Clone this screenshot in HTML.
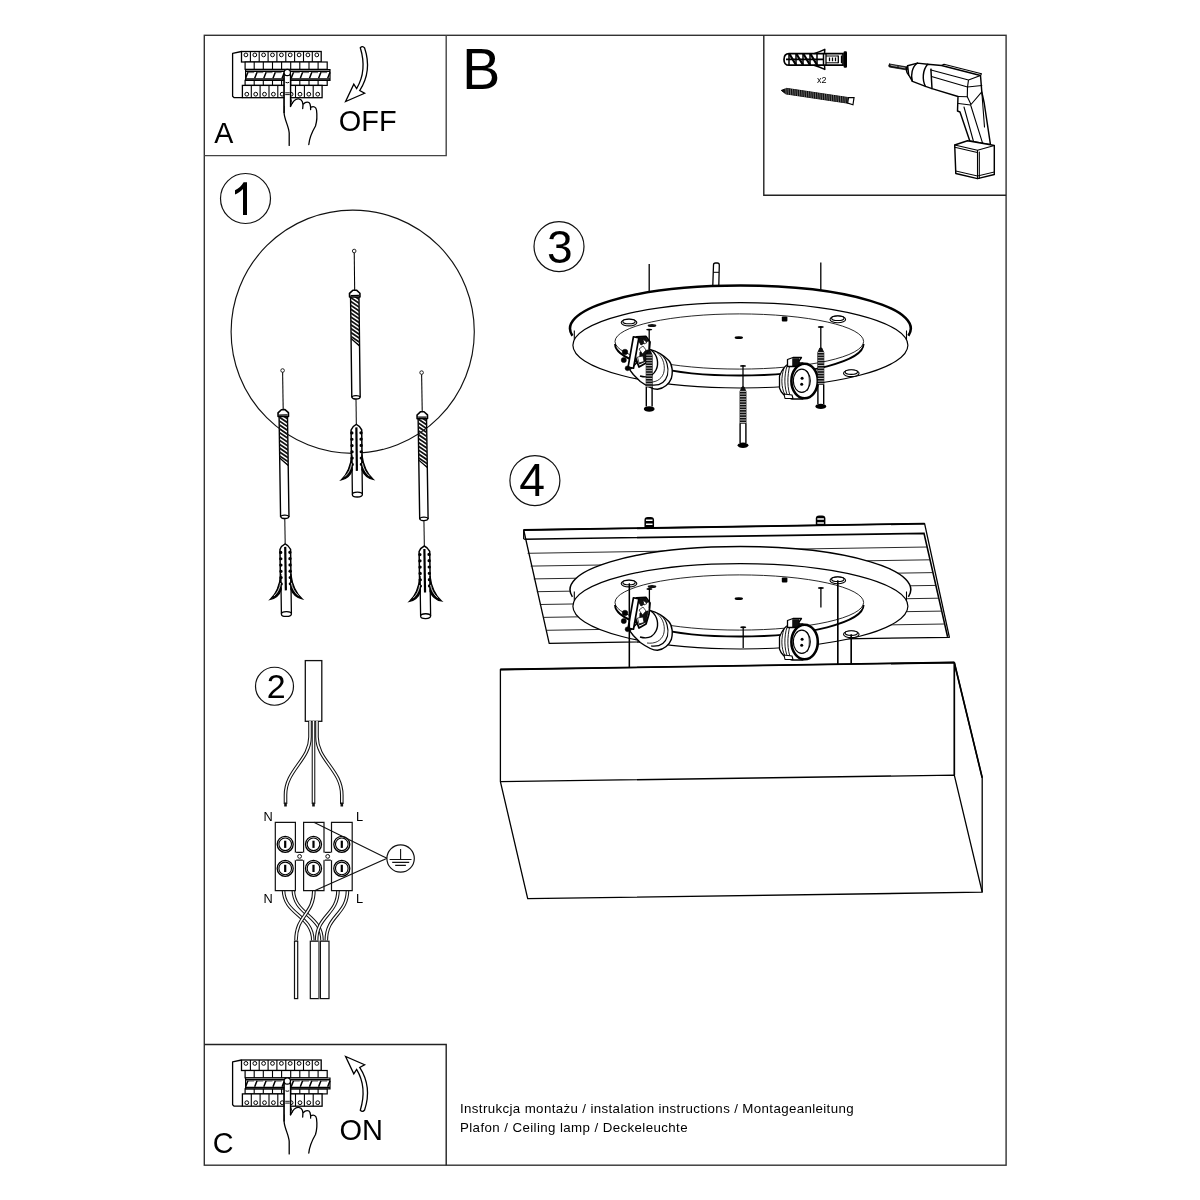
<!DOCTYPE html>
<html><head><meta charset="utf-8">
<style>
html,body{margin:0;padding:0;background:#fff;width:1200px;height:1200px;overflow:hidden}
svg{display:block;will-change:transform}
text{font-family:"Liberation Sans",sans-serif;fill:#000}
.f{fill:none;stroke:#111;stroke-width:1.2}
.t{fill:none;stroke:#111;stroke-width:0.9}
.k{fill:none;stroke:#000;stroke-width:1.8}
.w{fill:#fff;stroke:#111;stroke-width:1.2}
.b{fill:#111;stroke:none}
</style></head><body>
<svg width="1200" height="1200" viewBox="0 0 1200 1200">
<!-- frames -->
<rect x="204.3" y="35.3" width="801.8" height="1129.9" fill="none" stroke="#333" stroke-width="1.4"/>
<path d="M204.3 155.6H446.2V35.3" fill="none" stroke="#444" stroke-width="1.4"/>
<path d="M763.8 35.3V195.2H1006.1" fill="none" stroke="#222" stroke-width="1.4"/>
<path d="M204.3 1044.5H446.2V1165.2" fill="none" stroke="#222" stroke-width="1.4"/>

<!-- texts -->
<text x="214.3" y="143.3" font-size="28.6">A</text>
<text x="338.8" y="131.4" font-size="28.9">OFF</text>
<text x="462" y="88.9" font-size="57.5">B</text>
<text x="212.8" y="1153.3" font-size="28.8">C</text>
<text x="339.5" y="1140.3" font-size="29">ON</text>
<text x="460" y="1113" font-size="13.3" letter-spacing="0.37" fill="#222">Instrukcja montażu / instalation instructions / Montageanleitung</text>
<text x="460" y="1131.5" font-size="13.3" letter-spacing="0.4" fill="#222">Plafon / Ceiling lamp / Deckeleuchte</text>
<text x="817" y="83.3" font-size="9">x2</text>

<!-- step circles -->
<circle cx="245.5" cy="198.5" r="25" class="f"/>
<path d="M243,215V189C240.5,191.6 238,193.2 235,194.4V190.3C238.6,188.6 241.6,185.8 243.6,182.3H247V215Z" fill="#000"/>
<circle cx="274.5" cy="686.25" r="19" class="f"/>
<text x="276.2" y="697.75" font-size="34" text-anchor="middle">2</text>
<circle cx="559" cy="246.6" r="25" class="f"/>
<text x="559.8" y="263.2" font-size="46" text-anchor="middle">3</text>
<circle cx="534.9" cy="480.6" r="25" class="f"/>
<text x="532.2" y="495.8" font-size="46.3" text-anchor="middle">4</text>

<!-- SECTION1 -->
<defs>
<clipPath id="dc"><path d="M-4.2,45.6 H4.2 V95 L-4.2,87.5 Z"/></clipPath>
<g id="drill">
<circle cx="0" cy="0" r="1.8" fill="#fff" stroke="#111" stroke-width="0.9"/>
<path d="M0,1.8V39" fill="none" stroke="#000" stroke-width="1.05"/>
<path d="M-4.2,45V146.5 M4.2,45V146.5" fill="none" stroke="#000" stroke-width="1.4"/>
<g clip-path="url(#dc)"><path d="M-5,38.0 L5,45.0 M-5,41.9 L5,48.9 M-5,45.8 L5,52.8 M-5,49.7 L5,56.7 M-5,53.6 L5,60.6 M-5,57.5 L5,64.5 M-5,61.4 L5,68.4 M-5,65.3 L5,72.3 M-5,69.2 L5,76.2 M-5,73.1 L5,80.1 M-5,77.0 L5,84.0 M-5,80.9 L5,87.9 M-5,84.8 L5,91.8 M-5,88.7 L5,95.7 M-5,92.6 L5,99.6 " fill="none" stroke="#111" stroke-width="1.75"/></g>
<path d="M-4.2,87.5 L4.2,95" fill="none" stroke="#000" stroke-width="1.2"/>
<path d="M-5.2,46 V42.3 L-1.8,39.2 H1.8 L5.2,42.3 V46 Z" fill="#fff" stroke="#000" stroke-width="1.6" stroke-linejoin="round"/>
<path d="M-4.2,44.5 H4.2" fill="none" stroke="#000" stroke-width="1.2"/>
<ellipse cx="0" cy="146.3" rx="4" ry="1.7" fill="#fff" stroke="#000" stroke-width="1.3"/>
<path d="M0,148V173.4" fill="none" stroke="#000" stroke-width="1.0"/>
<g transform="translate(0,173.4)">
<path d="M-4.8,44 V70 M5.2,44 V70" fill="none" stroke="#000" stroke-width="1.3"/>
<ellipse cx="0.2" cy="70.2" rx="5" ry="2.4" fill="#fff" stroke="#000" stroke-width="1.3"/>
<path d="M-5.3,44 V5.5 Q-3.5,1.5 0,0 Q3.5,1.5 5.3,5.5 V44" fill="#fff" stroke="#000" stroke-width="1.5" stroke-linejoin="round"/>
<g fill="#000"><ellipse cx="-4.6" cy="8.5" rx="1.7" ry="1.6"/><ellipse cx="4.6" cy="8.5" rx="1.7" ry="1.6"/><ellipse cx="-4.6" cy="14.8" rx="1.7" ry="1.6"/><ellipse cx="4.6" cy="14.8" rx="1.7" ry="1.6"/><ellipse cx="-4.6" cy="21.1" rx="1.7" ry="1.6"/><ellipse cx="4.6" cy="21.1" rx="1.7" ry="1.6"/><ellipse cx="-4.6" cy="27.4" rx="1.7" ry="1.6"/><ellipse cx="4.6" cy="27.4" rx="1.7" ry="1.6"/><ellipse cx="-4.6" cy="33.7" rx="1.7" ry="1.6"/><ellipse cx="4.6" cy="33.7" rx="1.7" ry="1.6"/><ellipse cx="-4.6" cy="40" rx="1.7" ry="1.6"/><ellipse cx="4.6" cy="40" rx="1.7" ry="1.6"/></g>
<path d="M-4.8,30 C-6,41 -10,50 -15.8,55.3 C-9.5,54 -6,49.5 -4.6,45.5 Z" fill="#000" stroke="#000" stroke-width="1.2"/>
<path d="M-12,52 C-8,48.5 -6,44 -5.2,39" fill="none" stroke="#fff" stroke-width="0.8"/>
<path d="M5.2,30 C6.4,41 10.5,50 16.3,55.3 C10,54 6.6,49.5 5,45.5 Z" fill="#000" stroke="#000" stroke-width="1.2"/>
<path d="M12.5,52 C8.5,48.5 6.4,44 5.6,39" fill="none" stroke="#fff" stroke-width="0.8"/>
<path d="M0,3V46.5" fill="none" stroke="#000" stroke-width="2.2"/>
</g>
</g>
</defs>
<circle cx="352.7" cy="331.7" r="121.6" fill="none" stroke="#111" stroke-width="1.15"/>
<use href="#drill" transform="translate(354.2,251) rotate(-0.7)"/>
<use href="#drill" transform="translate(282.6,370.5) rotate(-0.85)"/>
<use href="#drill" transform="translate(421.6,372.6) rotate(-0.9)"/>

<!-- SECTION2 -->

<rect x="305.3" y="660.6" width="16.5" height="60.7" fill="#fff" stroke="#111" stroke-width="1.3"/>
<path d="M310,721V737C310,760 285.5,770 285.5,795V804" fill="none" stroke="#111" stroke-width="3.6"/><path d="M310,721V737C310,760 285.5,770 285.5,795V804" fill="none" stroke="#fff" stroke-width="1.5"/><path d="M313.5,721V804" fill="none" stroke="#111" stroke-width="3.6"/><path d="M313.5,721V804" fill="none" stroke="#fff" stroke-width="1.5"/><path d="M317,721V737C317,760 341.8,770 341.8,795V804" fill="none" stroke="#111" stroke-width="3.6"/><path d="M317,721V737C317,760 341.8,770 341.8,795V804" fill="none" stroke="#fff" stroke-width="1.5"/><path d="M285.5,802.5V806.5" stroke="#111" stroke-width="2.6"/><path d="M313.5,802.5V806.5" stroke="#111" stroke-width="2.6"/><path d="M341.8,802.5V806.5" stroke="#111" stroke-width="2.6"/>
<path d="M283.5,890C284,915 312.8,915 312.8,940.5" fill="none" stroke="#111" stroke-width="3.6"/><path d="M283.5,890C284,915 312.8,915 312.8,940.5" fill="none" stroke="#fff" stroke-width="1.5"/><path d="M293.3,890C294,915 322,915 322,940.5" fill="none" stroke="#111" stroke-width="3.6"/><path d="M293.3,890C294,915 322,915 322,940.5" fill="none" stroke="#fff" stroke-width="1.5"/><path d="M313.9,890C314,915 296,915 296,940.5" fill="none" stroke="#111" stroke-width="3.6"/><path d="M313.9,890C314,915 296,915 296,940.5" fill="none" stroke="#fff" stroke-width="1.5"/><path d="M338,890C338,915 316.6,915 316.6,940.5" fill="none" stroke="#111" stroke-width="3.6"/><path d="M338,890C338,915 316.6,915 316.6,940.5" fill="none" stroke="#fff" stroke-width="1.5"/><path d="M347.5,890C347.5,915 326.3,915 326.3,940.5" fill="none" stroke="#111" stroke-width="3.6"/><path d="M347.5,890C347.5,915 326.3,915 326.3,940.5" fill="none" stroke="#fff" stroke-width="1.5"/>
<rect x="294.5" y="941.2" width="3.2" height="57.4" fill="#fff" stroke="#111" stroke-width="1.2"/>
<rect x="310.3" y="941.2" width="8.5" height="57.4" fill="#fff" stroke="#111" stroke-width="1.2"/>
<rect x="320.4" y="941.2" width="8.6" height="57.4" fill="#fff" stroke="#111" stroke-width="1.2"/>
<path d="M318.8,941.2V998.6" stroke="#777" stroke-width="1.6"/>
<path d="M275.3,822.3H295.4V852.4H303.6V822.3H324V852.4H331.5V822.3H352.2V890.7H331.5V860.2H324V890.7H303.6V860.2H295.4V890.7H275.3Z" fill="#fff" stroke="#111" stroke-width="1.2"/>
<path d="M295.4,852.4V860.2 M303.6,852.4V860.2 M324,852.4V860.2 M331.5,852.4V860.2" stroke="#fff" stroke-width="1.6"/>
<circle cx="299.6" cy="856.4" r="1.9" fill="#fff" stroke="#111" stroke-width="1"/>
<circle cx="327.7" cy="856.4" r="1.9" fill="#fff" stroke="#111" stroke-width="1"/>
<circle cx="285.2" cy="844.3" r="8" fill="#fff" stroke="#000" stroke-width="1.3"/><circle cx="285.2" cy="844.3" r="6.3" fill="none" stroke="#000" stroke-width="1.1"/><path d="M285.2,840.6999999999999V847.9" stroke="#000" stroke-width="2.2"/><circle cx="285.2" cy="868.4" r="8" fill="#fff" stroke="#000" stroke-width="1.3"/><circle cx="285.2" cy="868.4" r="6.3" fill="none" stroke="#000" stroke-width="1.1"/><path d="M285.2,864.8V872.0" stroke="#000" stroke-width="2.2"/><circle cx="313.5" cy="844.3" r="8" fill="#fff" stroke="#000" stroke-width="1.3"/><circle cx="313.5" cy="844.3" r="6.3" fill="none" stroke="#000" stroke-width="1.1"/><path d="M313.5,840.6999999999999V847.9" stroke="#000" stroke-width="2.2"/><circle cx="313.5" cy="868.4" r="8" fill="#fff" stroke="#000" stroke-width="1.3"/><circle cx="313.5" cy="868.4" r="6.3" fill="none" stroke="#000" stroke-width="1.1"/><path d="M313.5,864.8V872.0" stroke="#000" stroke-width="2.2"/><circle cx="341.8" cy="844.3" r="8" fill="#fff" stroke="#000" stroke-width="1.3"/><circle cx="341.8" cy="844.3" r="6.3" fill="none" stroke="#000" stroke-width="1.1"/><path d="M341.8,840.6999999999999V847.9" stroke="#000" stroke-width="2.2"/><circle cx="341.8" cy="868.4" r="8" fill="#fff" stroke="#000" stroke-width="1.3"/><circle cx="341.8" cy="868.4" r="6.3" fill="none" stroke="#000" stroke-width="1.1"/><path d="M341.8,864.8V872.0" stroke="#000" stroke-width="2.2"/>
<path d="M313.8,822.3L387,858.3L314.5,890.7" fill="none" stroke="#111" stroke-width="1.1"/>
<circle cx="400.6" cy="858.5" r="13.7" fill="#fff" stroke="#111" stroke-width="1.2"/>
<path d="M400.6,848.9V859.5 M389.6,859.5H411.5 M392.2,862.4H409.2 M395.2,865.4H405.9" fill="none" stroke="#111" stroke-width="1.1"/>
<text x="263.5" y="821.2" font-size="12.8">N</text>
<text x="356" y="821.2" font-size="12.8">L</text>
<text x="263.5" y="903.4" font-size="12.8">N</text>
<text x="356" y="903.4" font-size="12.8">L</text>

<!-- SECTION3 -->
<defs>
<g id="plate">
<ellipse cx="740.4" cy="328.5" rx="170.4" ry="43" fill="#fff"/>
<ellipse cx="740.4" cy="345.3" rx="167.5" ry="42.7" fill="#fff" stroke="#000" stroke-width="1.2"/>
<path d="M572.4,335.8 A170.4,43 0 1 1 908.4,335.8" fill="none" stroke="#000" style="stroke-width:var(--e1w,2.5px)"/>
<path d="M574.3,330.5 V340 M906.5,330.5 V340" fill="none" stroke="#000" stroke-width="1.1"/>
<ellipse cx="739.3" cy="341.5" rx="124.3" ry="27.6" fill="none" stroke="#111" stroke-width="0.9"/>
<path d="M615,344 A124.3,31.5 0 0 0 863.6,344" fill="none" stroke="#000" stroke-width="1.8"/>
<g fill="#fff" stroke="#000" stroke-width="1.1">
<ellipse cx="629" cy="322.6" rx="7.8" ry="3.3"/><ellipse cx="629" cy="321.4" rx="6.2" ry="2.3"/>
<ellipse cx="837.8" cy="319.4" rx="7.8" ry="3.3"/><ellipse cx="837.8" cy="318.2" rx="6.2" ry="2.3"/>
<ellipse cx="851.3" cy="373.3" rx="7.8" ry="3.3"/><ellipse cx="851.3" cy="372.1" rx="6.2" ry="2.3"/>
</g>
<rect x="781.8" y="316.6" width="5.6" height="5" rx="1" fill="#000"/>
<ellipse cx="738.8" cy="337.7" rx="4.2" ry="1.4" fill="#000"/>
<ellipse cx="652" cy="325.6" rx="4.3" ry="1.5" fill="#111"/>
<!-- left socket -->
<g stroke="#000" stroke-linejoin="round" fill="#fff">
<path d="M649.7,349.4 C656,351 664,355.5 668.8,360.5 C672.5,364.5 673,373 671.3,378.6 C669.5,383.5 664,388.5 657.5,389.3 C651.5,389.5 644.5,384.5 640.3,381.5 L633.3,374.5 L629.8,369.8 Z" stroke-width="1.4"/>
<path d="M660.8,354.1 C667,359 669,368 667.5,375 C665.5,382 660,386 651,385" fill="none" stroke-width="1.1"/>
<path d="M657,352.5 C664,358 665.5,367 663.5,373.5 C661,380 655,383 647,382" fill="none" stroke-width="0.8"/>
<path d="M650.8,350 C658,355 659,364 656,370 C653,376 647,378 640,376" fill="none" stroke-width="1.4"/>
<path d="M636.5,337 L646,336.5 L650,342 L649,353 L646,363 L639,367 L635,356 Z" fill="#fff" stroke-width="1.8"/><path d="M637,338 L645.5,337.5 L648,341 L641,345 Z M640,352 L648,350 L646,361 L639.5,364Z" fill="#111" stroke-width="0.8"/>
<path d="M639,349 l4,-3 l3,4 l-3.5,4 Z M637.5,357 l5.5,-1 l1,5.5 l-5,1.5Z M643,339 l4,3.5 l-3,1.5z" fill="#fff" stroke-width="0.7"/>
<rect x="630.7" y="337" width="5.5" height="31" transform="rotate(10 633.4 352.5)" fill="#fff" stroke-width="1.7"/>
<circle cx="625" cy="352" r="2.8" fill="#000" stroke-width="0.5"/>
<circle cx="623.8" cy="360" r="2.6" fill="#000" stroke-width="0.5"/>
<circle cx="627.5" cy="368.3" r="2.4" fill="#000" stroke-width="0.5"/>
</g>

<!-- right socket -->
<g stroke="#000" stroke-linejoin="round">
<path d="M790,363 C784,366 781,372 779.5,376 V388 C781,393 785,397 792,399 L803,399 L803,363 Z" fill="#fff" stroke-width="1.3"/>
<path d="M784,368 C781,377 781,387 785,395 M787,366 C784,376 784,388 788,397 M790,364.5 C787,376 787,389 791,398" fill="none" stroke-width="0.9"/>
<path d="M787.5,366.5 V359.5 L793,357.5 H801.5 L799,361 V366.5 Z" fill="#fff" stroke-width="1.3"/>
<path d="M792.5,358.5 H799 V366 H792.5Z" fill="#111" stroke-width="0.5"/>
<path d="M784,394 L792,395 L793,398.5 L785,398.5Z" fill="#fff" stroke-width="1.1"/>
<ellipse cx="804.6" cy="381" rx="13.2" ry="17.3" fill="#fff" stroke-width="2.6"/>
<ellipse cx="801.8" cy="380.8" rx="8.5" ry="11.6" fill="#fff" stroke-width="1.2"/>
<path d="M807,371 C810,376 810,386 807,391" fill="none" stroke-width="0.7"/>
<circle cx="802.1" cy="378.3" r="1.5" fill="#000" stroke="none"/>
<circle cx="801.7" cy="384.2" r="1.5" fill="#000" stroke="none"/>
</g>
</g>
<g id="screw">
<ellipse cx="0" cy="0" rx="3.1" ry="0.9" fill="#000"/>
<path d="M0,0V21" stroke="#000" stroke-width="1.3"/>
<path d="M-1,21 L-3,25.5 V57.4 H3 V25.5 L1,21 Z" fill="#111" stroke="#000" stroke-width="0.8"/>
<path d="M-3,25.5H3 M-3,28.1H3 M-3,30.7H3 M-3,33.3H3 M-3,35.9H3 M-3,38.5H3 M-3,41.1H3 M-3,43.7H3 M-3,46.3H3 M-3,48.9H3 M-3,51.5H3 M-3,54.1H3 M-3,56.7H3 " stroke="#fff" stroke-width="0.7"/>
<path d="M-2.9,57.4V77 M2.9,57.4V77" stroke="#000" stroke-width="1.4"/>
<ellipse cx="0" cy="79.4" rx="5.4" ry="2.7" fill="#000"/>
</g>
</defs>
<path d="M649.2,264V292 M820.8,262.5V290" stroke="#000" stroke-width="1.3"/>
<path d="M712.8,285.5 L713.5,265 Q713.5,263 715.5,263 H717.3 Q719.3,263 719.3,265 L718.8,285.5" fill="#fff" stroke="#000" stroke-width="1.3"/>
<path d="M713.3,272.3H719" stroke="#000" stroke-width="1"/>
<use href="#plate"/>
<use href="#screw" transform="translate(649.2,329.6)"/>
<use href="#screw" transform="translate(743,365.9)"/>
<use href="#screw" transform="translate(820.8,327)"/>

<!-- SECTION4 -->

<g transform="translate(649.25,517)"><path d="M-4.8,11V3Q-4.8,0 -1.5,0H1.5Q4.8,0 4.8,3V11Z" fill="#000"/><path d="M-3.3,2.6 H3.3 V4.1 H-3.3Z M-3.3,6.6 H3.3 V8.1 H-3.3Z" fill="#fff"/></g><g transform="translate(820.6,515.6)"><path d="M-4.8,11V3Q-4.8,0 -1.5,0H1.5Q4.8,0 4.8,3V11Z" fill="#000"/><path d="M-3.3,2.6 H3.3 V4.1 H-3.3Z M-3.3,6.6 H3.3 V8.1 H-3.3Z" fill="#fff"/></g>
<path d="M523.7,530 L924.6,523.7 L949.4,637.3 L549.2,643.3 Z" fill="#fff" stroke="#000" stroke-width="1.3" stroke-linejoin="round"/>
<path d="M524.2,539.2 L924,533.4 L947.6,636.9" fill="none" stroke="#000" stroke-width="1.6"/>
<path d="M523.7,530 V539.2" stroke="#000" stroke-width="1.3"/>
<path d="M523.7,530 L924.6,523.7" stroke="#000" stroke-width="1.8"/>
<path d="M527.6,553.3L927.1,547.0 M530.7,566.1L930.0,559.8 M533.7,578.9L933.0,572.6 M536.8,591.7L935.9,585.4 M539.9,604.5L938.8,598.2 M543.0,617.4L941.8,611.1 M546.1,630.3L944.8,624.0 " stroke="#111" stroke-width="0.9"/>
<use href="#plate" transform="translate(0,261)" style="--e1w:1.5px"/>
<g transform="translate(0,261)">
<ellipse cx="649.4" cy="328" rx="3.1" ry="1" fill="#000"/>
<ellipse cx="820.9" cy="327" rx="3.1" ry="1" fill="#000"/>
<ellipse cx="743.2" cy="366.2" rx="3.1" ry="1" fill="#000"/>
<path d="M649.4,328V347 M820.9,327V346.6 M743.2,366.2V387" stroke="#000" stroke-width="1.3"/>
</g>
<path d="M629.4,583.5V667.5 M837.75,580.5V664.3 M851.25,634.5V664" stroke="#000" stroke-width="1.3"/>
<path d="M500.4,669.5 L954.3,662.5 L982.2,777.7 V892.2 L527.7,898.7 L500.4,781.7 Z" fill="#fff" stroke="#000" stroke-width="1.3" stroke-linejoin="round"/>
<path d="M500.4,669.5 L954.3,662.5" stroke="#000" stroke-width="1.8"/>
<path d="M500.4,781.7 L954.3,775.1 L982.2,892.2" fill="none" stroke="#000" stroke-width="1.3"/><path d="M954.3,662.5 V775.1 M954.3,662.5 L982.2,777.7" fill="none" stroke="#000" stroke-width="1.7"/>
<path d="M629.4,583.5V667.5 M837.75,580.5V664.3 M851.25,634.5V664" stroke="#000" stroke-width="1.3"/>

<!-- TOOLS -->

<g transform="translate(781.3,90.4) rotate(8.5)">
<path d="M0,0 L5,-2.8 H67.5 V2.8 H5 Z" fill="#111" stroke="#000" stroke-width="0.9"/>
<path d="M4.0,-3.2 l1.4,6.4 M6.3,-3.2 l1.4,6.4 M8.6,-3.2 l1.4,6.4 M10.9,-3.2 l1.4,6.4 M13.2,-3.2 l1.4,6.4 M15.5,-3.2 l1.4,6.4 M17.8,-3.2 l1.4,6.4 M20.1,-3.2 l1.4,6.4 M22.4,-3.2 l1.4,6.4 M24.7,-3.2 l1.4,6.4 M27.0,-3.2 l1.4,6.4 M29.3,-3.2 l1.4,6.4 M31.6,-3.2 l1.4,6.4 M33.9,-3.2 l1.4,6.4 M36.2,-3.2 l1.4,6.4 M38.5,-3.2 l1.4,6.4 M40.8,-3.2 l1.4,6.4 M43.1,-3.2 l1.4,6.4 M45.4,-3.2 l1.4,6.4 M47.7,-3.2 l1.4,6.4 M50.0,-3.2 l1.4,6.4 M52.3,-3.2 l1.4,6.4 M54.6,-3.2 l1.4,6.4 M56.9,-3.2 l1.4,6.4 M59.2,-3.2 l1.4,6.4 M61.5,-3.2 l1.4,6.4 M63.8,-3.2 l1.4,6.4 M66.1,-3.2 l1.4,6.4 " stroke="#fff" stroke-width="0.5" opacity="0.7"/>
<path d="M67.5,-2.8 L73,-3.6 V3.6 L67.5,2.8 Z" fill="#fff" stroke="#000" stroke-width="1.2"/>
</g>
<g>
<path d="M784,59.4 C784,56 785.5,53.6 789,53.6 H843 V65.2 H789 C785.5,65.2 784,62.8 784,59.4 Z" fill="#fff" stroke="#000" stroke-width="1.7"/>
<path d="M789,53.6 V65.2 M796,53.6 V65.2 M803,53.6 V65.2 M810,53.6 V65.2 M817,53.6 V65.2 M823.5,53.6 V65.2" stroke="#000" stroke-width="1.5"/>
<path d="M786,59.4 H823" stroke="#000" stroke-width="1.8"/>
<path d="M789.5,54 L796,65 M796.5,54 L803,65 M803.5,54 L810,65 M810.5,54 L817,65" stroke="#000" stroke-width="2.2"/>
<path d="M814,53.6 C818,52.5 821.5,51 824.8,49.4 L824.5,53.6 M814,65.2 C818,66.3 821.5,67.8 824.8,69.4 L824.5,65.2" fill="none" stroke="#000" stroke-width="1.5" stroke-linejoin="round"/>
<path d="M826,53.6 V65.2 M829.5,57.5 V61.3 M832.5,57.5 V61.3 M835.5,57.5 V61.3 M838.3,55.5 V63.3 M841.5,55.5 V63.3" stroke="#000" stroke-width="1.3"/>
<path d="M826,56 H838 M826,62.8 H838" stroke="#000" stroke-width="1"/>
<rect x="843.6" y="51.3" width="3.4" height="16.4" rx="1.2" fill="#000"/>
</g>
<g fill="#fff" stroke="#000" stroke-width="1.45" stroke-linejoin="round" stroke-linecap="round">
<path d="M889.5,64 L907.5,67 L907.2,70 L889.2,67 Q888,65.5 889.5,64 Z" fill="#111" stroke-width="0.7"/>
<path d="M891,65.3 L897,66.4 M899,66.8 L905,67.9" stroke="#fff" stroke-width="0.6"/>
<path d="M907.6,65.8 L917.4,63.1 L927.7,64.2 L925.5,86.4 L912.5,81.4 L908.7,75 Z"/>
<path d="M907.6,65.8 C905.8,68.5 906,72.5 908.7,75" fill="none"/>
<path d="M917.4,63.1 C912,66.5 910.5,75.5 912.3,81.3" fill="none"/>
<path d="M927.7,64.2 L941.5,65.5 L980.5,75.5 L981.8,91.8 L984.2,103 L990.5,144.8 L969.8,141 L960,112 L957.5,111 L958,96.5 L932,88.6 L925.5,86.4 C922,80 922.5,70 927.7,64.2 Z"/>
<path d="M930.9,69.1 L932,88.6" fill="none"/>
<path d="M941.5,65.5 L944,64.2 L981.5,73.8 L980.5,75.5" fill="none" stroke-width="1.1"/>
<path d="M931,70 L968.5,80 L980.5,75.5 M931.5,76.5 L967.5,87 L981.8,85.5 M968.5,80 L967.5,87 L967.3,96.8" fill="none" stroke-width="1.15"/>
<path d="M958,96.5 L967.3,96.8 L971,104.5 L981.8,91.8 M958.5,103.5 L970.5,105 M964,107 L973.5,141.5 M970.8,105.5 L982.8,143.8 M981.8,91.8 L984.5,127" fill="none" stroke-width="1.1"/>
<path d="M954.7,145 L967.5,140.8 L990.5,144.8 L994.3,145.5 V174.5 L977.5,178.6 L955.8,173.5 Z"/>
<path d="M954.7,145 L977.5,150.3 L994.3,145.5 M977.5,150.3 V178.6 M954.8,147.2 L977.3,152.5 M979.3,152 V178.5" fill="none" stroke-width="1.1"/>
<path d="M955.8,171 L977.5,176 L994.3,172" fill="none" stroke-width="1"/>
</g>

<!-- BREAKERS -->
<defs><g id="brk"><path d="M241.5,51.5 L232.6,53.4 V96.3 L234.2,97.7 H242.4" fill="#fff" stroke="#000" stroke-width="1.3" stroke-linejoin="round"/><rect x="241.5" y="51.5" width="79.7" height="10.5" fill="#fff" stroke="#000" stroke-width="1.3"/><path d="M250.4,51.5V62 M259.2,51.5V62 M268.1,51.5V62 M276.9,51.5V62 M285.8,51.5V62 M294.6,51.5V62 M303.5,51.5V62 M312.3,51.5V62 " stroke="#000" stroke-width="1.1"/><circle cx="245.9" cy="54.9" r="1.9" fill="#fff" stroke="#000" stroke-width="1"/><circle cx="254.8" cy="54.9" r="1.9" fill="#fff" stroke="#000" stroke-width="1"/><circle cx="263.6" cy="54.9" r="1.9" fill="#fff" stroke="#000" stroke-width="1"/><circle cx="272.5" cy="54.9" r="1.9" fill="#fff" stroke="#000" stroke-width="1"/><circle cx="281.4" cy="54.9" r="1.9" fill="#fff" stroke="#000" stroke-width="1"/><circle cx="290.2" cy="54.9" r="1.9" fill="#fff" stroke="#000" stroke-width="1"/><circle cx="299.1" cy="54.9" r="1.9" fill="#fff" stroke="#000" stroke-width="1"/><circle cx="307.9" cy="54.9" r="1.9" fill="#fff" stroke="#000" stroke-width="1"/><circle cx="316.8" cy="54.9" r="1.9" fill="#fff" stroke="#000" stroke-width="1"/><rect x="245.1" y="62" width="82.1" height="7.3" fill="#fff" stroke="#000" stroke-width="1.2"/><path d="M254.2,62V69.3 M263.3,62V69.3 M272.5,62V69.3 M281.6,62V69.3 M290.7,62V69.3 M299.8,62V69.3 M309.0,62V69.3 M318.1,62V69.3 " stroke="#000" stroke-width="1.1"/><rect x="245.1" y="80.3" width="82.1" height="5.1" fill="#fff" stroke="#000" stroke-width="1.2"/><path d="M254.2,80.3V85.4 M263.3,80.3V85.4 M272.5,80.3V85.4 M281.6,80.3V85.4 M290.7,80.3V85.4 M299.8,80.3V85.4 M309.0,80.3V85.4 M318.1,80.3V85.4 " stroke="#000" stroke-width="1.1"/><path d="M245.6,69.5H330V80.3H245.6Z" fill="#fff" stroke="#000" stroke-width="1.2"/><path d="M245.6,71.3H330 M245.6,79H330" stroke="#000" stroke-width="1.6"/><path d="M247.9,72.2L245.6,78.3 M257.0,72.2L254.7,78.3 M266.1,72.2L263.8,78.3 M275.3,72.2L273.0,78.3 M284.4,72.2L282.1,78.3 M293.5,72.2L291.2,78.3 M302.6,72.2L300.3,78.3 M311.8,72.2L309.5,78.3 M320.9,72.2L318.6,78.3 M330.0,72.2L327.7,78.3 " stroke="#000" stroke-width="1.5"/><path d="M247.9,72.6H254.2 M257.0,72.6H263.3 M266.1,72.6H272.5 M275.3,72.6H281.6 M284.4,72.6H290.7 M293.5,72.6H299.8 M302.6,72.6H309.0 M311.8,72.6H318.1 M320.9,72.6H327.2 " stroke="#000" stroke-width="0.6"/><rect x="242.4" y="85.4" width="79.7" height="12.3" fill="#fff" stroke="#000" stroke-width="1.3"/><path d="M251.3,85.4V97.7 M260.1,85.4V97.7 M269.0,85.4V97.7 M277.8,85.4V97.7 M286.7,85.4V97.7 M295.5,85.4V97.7 M304.4,85.4V97.7 M313.2,85.4V97.7 " stroke="#000" stroke-width="1.1"/><circle cx="246.8" cy="94.2" r="1.9" fill="#fff" stroke="#000" stroke-width="1"/><circle cx="255.7" cy="94.2" r="1.9" fill="#fff" stroke="#000" stroke-width="1"/><circle cx="264.5" cy="94.2" r="1.9" fill="#fff" stroke="#000" stroke-width="1"/><circle cx="273.4" cy="94.2" r="1.9" fill="#fff" stroke="#000" stroke-width="1"/><circle cx="282.2" cy="94.2" r="1.9" fill="#fff" stroke="#000" stroke-width="1"/><circle cx="291.1" cy="94.2" r="1.9" fill="#fff" stroke="#000" stroke-width="1"/><circle cx="300.0" cy="94.2" r="1.9" fill="#fff" stroke="#000" stroke-width="1"/><circle cx="308.8" cy="94.2" r="1.9" fill="#fff" stroke="#000" stroke-width="1"/><circle cx="317.7" cy="94.2" r="1.9" fill="#fff" stroke="#000" stroke-width="1"/><path d="M284.1,74 V113 C284.5,120 288.7,126 289.2,133 V145.4 M290.5,74 V106.5 C292.5,102 295.5,98.5 298.5,98.8 C302.5,99.3 303.5,103 302.7,108.5 M303.4,104.2 C305.5,101.7 309,101.5 310,104 C310.6,106 310.8,108 310.6,109.7 M311.2,107.2 C313.5,106 316,107 316.5,110 C317.3,116 317,121 315.5,126 C312,132 309.5,137 308.8,144.5" fill="none" stroke="#000" stroke-width="1.3" stroke-linecap="round" stroke-linejoin="round"/>
<path d="M284.6,74 V106 H290 V74Z" fill="#fff" stroke="none"/>
<path d="M284.1,75 V113 M290.5,75 V106.5" stroke="#000" stroke-width="1.3"/>
<path d="M285.5,82.3 Q287.3,83.3 289.2,82.3" fill="none" stroke="#000" stroke-width="1"/>
<circle cx="287.3" cy="72.5" r="3.2" fill="#fff" stroke="#000" stroke-width="1.3"/>
<path d="M285.2,92.8H289.8M285.2,94.6H289.8" stroke="#000" stroke-width="0.9"/>
<path d="M290.5,98 L292.5,104" stroke="#000" stroke-width="0.9"/></g></defs>
<use href="#brk"/>
<use href="#brk" transform="translate(0,1008.5)"/>
<path d="M360.3,47.8 Q362.5,45.3 364.6,48 C369.3,62 368.8,76.5 359.7,90.6 L364.6,93.3 L345.6,101.5 L353.8,84.2 L356.6,88.6 C364.5,75.5 364.5,61.5 360.3,47.8 Z" fill="#fff" stroke="#000" stroke-width="1.3" stroke-linejoin="miter"/>
<g transform="translate(0,1158) scale(1,-1)"><path d="M360.3,47.8 Q362.5,45.3 364.6,48 C369.3,62 368.8,76.5 359.7,90.6 L364.6,93.3 L345.6,101.5 L353.8,84.2 L356.6,88.6 C364.5,75.5 364.5,61.5 360.3,47.8 Z" fill="#fff" stroke="#000" stroke-width="1.3" stroke-linejoin="miter"/></g>

</svg>
</body></html>
